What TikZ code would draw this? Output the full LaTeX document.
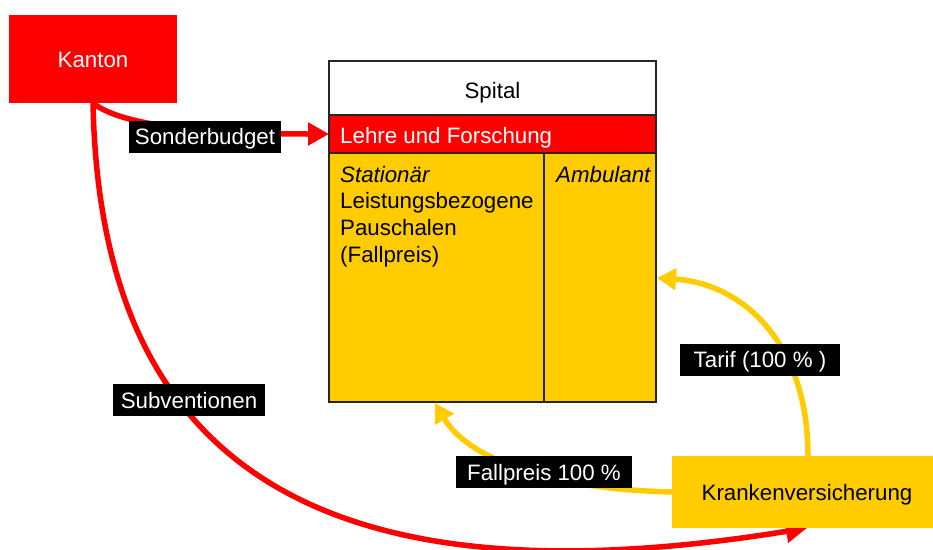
\documentclass[tikz,border=0pt]{standalone}
\usepackage{fontspec}
\setmainfont{Liberation Sans}
\usetikzlibrary{arrows.meta}
\definecolor{kred}{HTML}{FF0000}
\definecolor{kyel}{HTML}{FFCC00}
\begin{document}
\begin{tikzpicture}[x=1pt,y=-1pt,
  every node/.style={font=\fontsize{22.3}{27}\selectfont},
  block/.style={inner sep=0pt, outer sep=0pt},
  capc/.style={text height=16pt, text depth=0pt},
  lbl/.style={fill=black, text=white, inner sep=0pt, minimum height=32pt, text height=16pt, text depth=0pt},
  redline/.style={draw=kred, line width=5.5pt, -{Triangle[length=21pt,width=22pt]}},
  yelline/.style={draw=kyel, line width=5.5pt, -{Triangle[length=19pt,width=21pt]}},
  txt/.style={inner sep=0pt, anchor=base west}]
\useasboundingbox (0,0) rectangle (933,549);

% spital
\node[block, capc, fill=white, minimum width=327pt, minimum height=54pt] (spital) at (492.5,88) {};
\node[capc, inner sep=0pt] (spitaltxt) at (492.5,90) {Spital};
\node[block, fill=kred, minimum width=327pt, minimum height=38pt] (lehre) at (492.5,134) {};
\node[block, fill=kyel, minimum width=215pt, minimum height=249pt] (stat) at (436.5,277.5) {};
\node[block, fill=kyel, minimum width=112pt, minimum height=249pt] (amb) at (600,277.5) {};
\draw[line width=1.2pt, draw=black!85] (spital.north west) rectangle (amb.south east);
\draw[line width=1.2pt, draw=black!85] (lehre.north west) -- (lehre.north east);
\draw[line width=1.2pt, draw=black!85] (lehre.south west) -- (lehre.south east);
\draw[line width=1.2pt, draw=black!85] (amb.north west) -- (amb.south west);

\node[txt, text=white] (lehretxt) at (340,143) {Lehre und Forschung};
\node[txt] (t1) at (340,182) {\itshape Stationär};
\node[txt] (t2) at (340,208.7) {Leistungsbezogene};
\node[txt] (t3) at (340,235.4) {Pauschalen};
\node[txt] (t4) at (340,262) {(Fallpreis)};
\node[txt] (t5) at (556,182) {\itshape Ambulant};

\coordinate (ambin) at (657,278);
\coordinate (statin) at (435,403);
\coordinate (kantonout) at (93,103);
\coordinate (kvtop) at (808,456);
\coordinate (kvbot) at (807,528);
\coordinate (kvleft) at (674,492);

% connectors
\draw[redline] (kantonout) .. controls (120,125) and (200,134) .. (lehre.west);
\draw[redline] (kantonout) .. controls (100,450) and (300,610) .. (kvbot);
\draw[yelline] (kvtop) .. controls (808,340) and (740,283) .. (ambin);
\draw[yelline] (kvleft) .. controls (560,490) and (470,462) .. (statin);

% boxes (over line starts)
\node[block, capc, fill=kred, minimum width=168pt, minimum height=88pt, text=white] (kanton) at (93,59) {Kanton};
\node[block, fill=kyel, minimum width=261pt, minimum height=72pt] (kv) at (802.5,492) {};
\node[capc, inner sep=0pt] (kvtxt) at (807,492) {Krankenversicherung};

% labels
\node[lbl, minimum width=152pt] (sb) at (205,136.5) {Sonderbudget};
\node[lbl, minimum width=152pt] (sv) at (189,400) {Subventionen};
\node[lbl, minimum width=160pt] (tf) at (760,359.5) {Tarif (100 \% )};
\node[lbl, minimum width=176pt] (fp) at (544,472) {Fallpreis 100 \%};
\end{tikzpicture}
\end{document}
